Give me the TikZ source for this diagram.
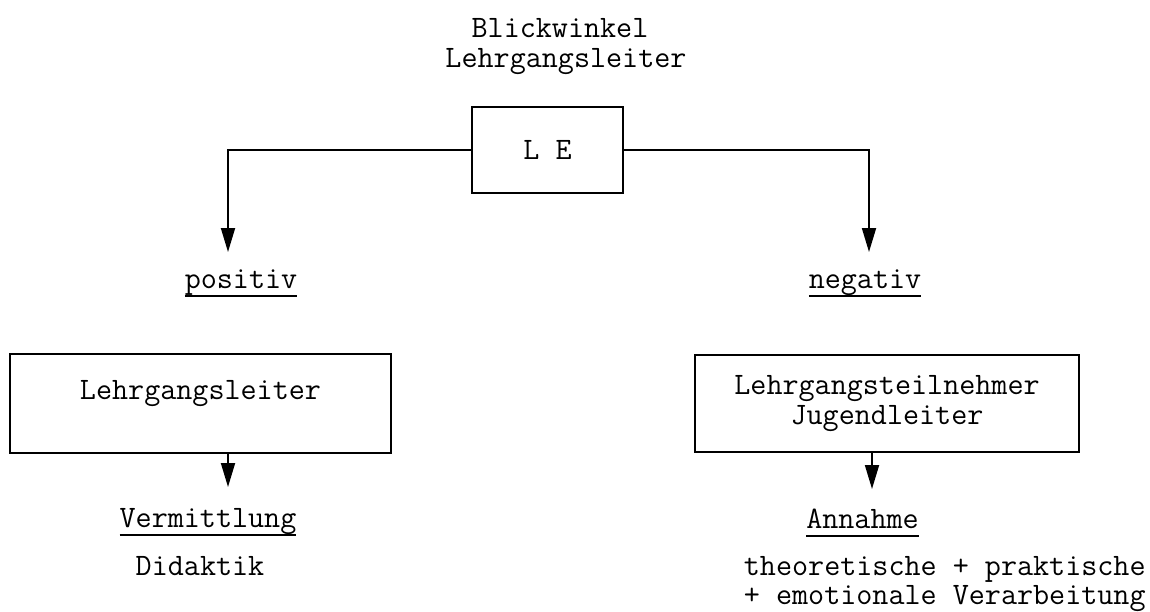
\documentclass[tikz,border=0pt]{standalone}
\usepackage{fontspec}
\usetikzlibrary{arrows.meta}
\newcommand{\uword}[1]{\setbox0\hbox{#1}\rlap{\copy0}\rule[-4.6pt]{\wd0}{1pt}}

\begin{document}
\begin{tikzpicture}[x=0.5pt, y=-0.5pt, line width=0.9pt, >={Triangle[length=12pt,width=7pt]},
			every node/.style={font=\ttfamily\fontsize{15.6}{15}\selectfont, inner sep=0pt}]
			\tikzstyle{box}=[draw, line width=0.9pt]
			\useasboundingbox (0,0) rectangle (1150,611);
			\node[anchor=base](blick) at (560,37){Blickwinkel};
			\node[anchor=base](blickleiter) at (566,67){Lehrgangsleiter};
			\node[box,minimum width=75.5pt,minimum height=43pt](le) at (547.5,150){L E};
			\coordinate (posend) at (228,252);
			\coordinate (negend) at (869,252);
			\node[anchor=base](positiv) at (241,288){\uword{positiv}};
			\node[anchor=base](negativ) at (865,288){\uword{negativ}};
			\node[box,minimum width=190.5pt,minimum height=49.5pt,text depth=14pt](leiterbox) at (200.5,403.5){Lehrgangsleiter};
			\node[box,align=center,minimum width=192pt,minimum height=48.5pt](teilbox) at (887,403.5){Lehrgangsteilnehmer\\Jugendleiter};
			\coordinate (vermend) at (228,487);
			\coordinate (annend) at (872,489);
			\node[anchor=base](vermittlung) at (208,527){\uword{Vermittlung}};
			\node[anchor=base](didaktik) at (200,575){Didaktik};
			\node[anchor=base](annahme) at (862.5,528){\uword{Annahme}};
			\node[anchor=north west,align=left,font=\ttfamily\fontsize{15.6}{14.5}\selectfont](verarbeitung) at (743,556)
				{theoretische + praktische\\+ emotionale Verarbeitung};
			\draw[->] (le.west) -| (posend);
			\draw[->] (le.east) -| (negend);
			\draw[->] (leiterbox.south -| vermend) -- (vermend);
			\draw[->] (teilbox.south -| annend) -- (annend);
\end{tikzpicture}
\end{document}
